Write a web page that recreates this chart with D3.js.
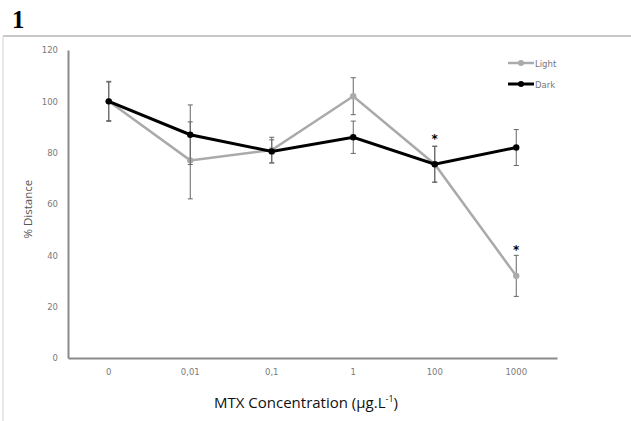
<!DOCTYPE html>
<html>
<head>
<meta charset="utf-8">
<script src="https://cdn.jsdelivr.net/npm/d3@7"></script>
<style>
  body { margin: 0; background: #fff; }
  svg { display: block; }
</style>
</head>
<body>
<div id="chart"></div>
<script>
const categories = ['0', '0,01', '0,1', '1', '100', '1000'];
const lightValues = [100, 77, 81, 102, 75.5, 32];
const lightErrors = [7.5, 15, 5, 7.2, 7, 8];
const darkValues = [100, 87, 80.5, 86, 75.5, 82];
const darkErrors = [7.8, 11.6, 4.5, 6.3, 7, 7];
const yTicks = [0, 20, 40, 60, 80, 100, 120];
// asterisk markers: [category, value]
const stars = [['100', 86], ['1000', 43]];

const width = 631;
const height = 421;
const margin = { top: 50, right: 74, bottom: 63, left: 68 };

const svg = d3.select('#chart')
  .append('svg')
  .attr('width', width)
  .attr('height', height);

// frame lines (top and left)
svg.append('line')
  .attr('x1', 3).attr('x2', width)
  .attr('y1', 36).attr('y2', 36)
  .attr('stroke', '#c8c8c8').attr('stroke-width', 2);
svg.append('line')
  .attr('x1', 3).attr('x2', 3)
  .attr('y1', 36).attr('y2', height)
  .attr('stroke', '#e0e0e0').attr('stroke-width', 1.5);

// panel label
svg.append('text')
  .attr('x', 12).attr('y', 28)
  .attr('font-family', '"Liberation Serif", "Times New Roman", serif')
  .attr('font-weight', 'bold')
  .attr('font-size', 25)
  .text('1');

const xScale = d3.scaleBand()
  .domain(categories)
  .range([margin.left, width - margin.right])
  .padding(0);

const yScale = d3.scaleLinear()
  .domain([0, 120])
  .range([height - margin.bottom, margin.top]);

const cx = (c) => xScale(c) + xScale.bandwidth() / 2;

// axes
const xAxis = svg.append('g')
  .attr('transform', `translate(0, ${height - margin.bottom})`)
  .call(d3.axisBottom(xScale).tickSize(0).tickPadding(11));
const yAxis = svg.append('g')
  .attr('transform', `translate(${margin.left}, 0)`)
  .call(d3.axisLeft(yScale).tickValues(yTicks).tickSize(0).tickPadding(10));

[xAxis, yAxis].forEach((g) => {
  g.select('.domain').attr('stroke', '#8a8a8a').attr('stroke-width', 2);
  g.selectAll('text')
    .attr('fill', '#7a7a7a')
    .attr('font-family', '"DejaVu Sans", sans-serif')
    .attr('font-size', 8.5);
});

// axis titles
svg.append('text')
  .attr('x', 306)
  .attr('y', 408)
  .attr('text-anchor', 'middle')
  .attr('font-family', '"Open Sans", sans-serif')
  .attr('font-size', 15)
  .attr('fill', '#111')
  .html('MTX Concentration (µg.L<tspan dy="-6" font-size="9">-1</tspan><tspan dy="6">)</tspan>');

svg.append('text')
  .attr('transform', `translate(32, ${yScale(58)}) rotate(-90)`)
  .attr('text-anchor', 'middle')
  .attr('font-family', '"Open Sans", sans-serif')
  .attr('font-size', 11.5)
  .attr('fill', '#555')
  .text('% Distance');

const series = [
  { name: 'Light', values: lightValues, errors: lightErrors, color: '#aaaaaa', width: 2.5 },
  { name: 'Dark', values: darkValues, errors: darkErrors, color: '#000000', width: 3 },
];

series.forEach((s) => {
  const pts = categories.map((c, i) => ({ c, v: s.values[i], e: s.errors[i] }));

  // error bars
  const eb = svg.append('g').attr('stroke', '#666').attr('stroke-width', 1);
  pts.forEach((d) => {
    const x = cx(d.c);
    eb.append('line').attr('x1', x).attr('x2', x)
      .attr('y1', yScale(d.v + d.e)).attr('y2', yScale(d.v - d.e));
    [d.v + d.e, d.v - d.e].forEach((v) => {
      eb.append('line').attr('x1', x - 2.5).attr('x2', x + 2.5)
        .attr('y1', yScale(v)).attr('y2', yScale(v));
    });
  });

  const line = d3.line().x((d) => cx(d.c)).y((d) => yScale(d.v));
  svg.append('path')
    .datum(pts)
    .attr('d', line)
    .attr('fill', 'none')
    .attr('stroke', s.color)
    .attr('stroke-width', s.width);

  svg.append('g')
    .selectAll('circle')
    .data(pts)
    .join('circle')
    .attr('cx', (d) => cx(d.c))
    .attr('cy', (d) => yScale(d.v))
    .attr('r', 3.2)
    .attr('fill', s.color);
});

// significance stars
svg.append('g')
  .selectAll('text')
  .data(stars)
  .join('text')
  .attr('x', (d) => cx(d[0]))
  .attr('y', (d) => yScale(d[1]) + 6)
  .attr('text-anchor', 'middle')
  .attr('font-family', '"DejaVu Sans", sans-serif')
  .attr('font-weight', 'bold')
  .attr('font-size', 12)
  .text('*');

// legend
const legend = svg.append('g').attr('transform', 'translate(508, 63)');
series.forEach((s, i) => {
  const g = legend.append('g').attr('transform', `translate(0, ${i * 21})`);
  g.append('line').attr('x1', 0).attr('x2', 26).attr('y1', 0).attr('y2', 0)
    .attr('stroke', s.color).attr('stroke-width', s.width);
  g.append('circle').attr('cx', 13).attr('cy', 0).attr('r', 3).attr('fill', s.color);
  g.append('text').attr('x', 27).attr('y', 3.5)
    .attr('font-family', '"DejaVu Sans", sans-serif')
    .attr('font-size', 8.5)
    .attr('fill', '#777')
    .text(s.name);
});
</script>
</body>
</html>
